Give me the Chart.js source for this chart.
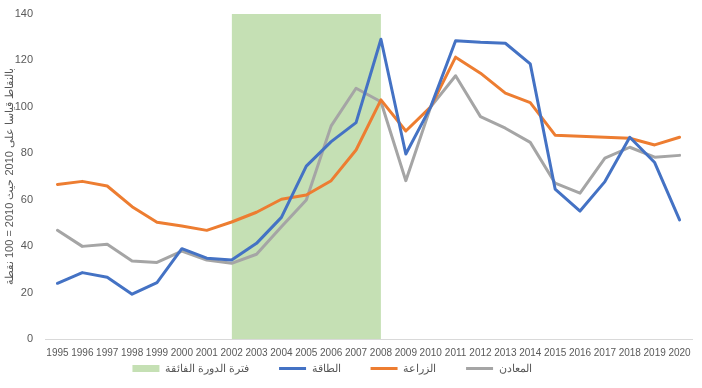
<!DOCTYPE html>
<html lang="ar">
<head>
<meta charset="utf-8">
<script src="https://cdn.jsdelivr.net/npm/chart.js@4.4.1/dist/chart.umd.min.js"></script>
<style>
  html, body { margin: 0; padding: 0; background: #fff; }
  #contenedor { width: 702px; height: 388px; }
</style>
</head>
<body>
<div id="contenedor"><canvas id="graficaCiclo"></canvas></div>
<script>
// 1. Datos del grafico (indices, 2010 = 100)
const anios = ["1995", "1996", "1997", "1998", "1999", "2000", "2001", "2002", "2003", "2004",
  "2005", "2006", "2007", "2008", "2009", "2010", "2011", "2012", "2013", "2014",
  "2015", "2016", "2017", "2018", "2019", "2020"];

const energia = [24.0, 28.6, 26.6, 19.3, 24.3, 38.9, 34.8, 34.0, 41.2, 52.4,
  74.5, 85.0, 93.2, 129.1, 79.7, 100, 128.5, 127.8, 127.4, 118.5,
  64.6, 55.1, 67.8, 86.9, 76.0, 51.3];

const agricultura = [66.6, 67.9, 65.9, 57.0, 50.3, 48.7, 46.8, 50.4, 54.6, 60.2,
  62.0, 68.2, 81.4, 103.0, 89.6, 100, 121.4, 114.5, 105.9, 101.8,
  87.8, 87.3, 86.9, 86.5, 83.6, 86.9];

const metales = [46.8, 39.9, 40.8, 33.6, 33.0, 37.9, 34.0, 32.6, 36.5, 48.4,
  59.9, 91.8, 108.0, 102.2, 68.2, 100, 113.4, 95.8, 90.8, 84.7,
  67.1, 62.8, 77.9, 82.6, 78.3, 79.1];

// periodo del superciclo: 2002 - 2008, ocupa toda la altura del eje
const superciclo = [null, null, null, null, null, null, null, 140, 140, 140,
  140, 140, 140, 140, null, null, null, null, null, null,
  null, null, null, null, null, null];

const etiquetasY = [0, 20, 40, 60, 80, 100, 120, 140];

const colorTexto = "#595959";
const fuente = "'Liberation Sans', Arial, sans-serif";

// 2. Serie de linea con el estilo comun
function serieLinea(nombre, datos, color) {
  return {
    label: nombre,
    data: datos,
    borderColor: color,
    backgroundColor: color,
    borderWidth: 3,
    pointRadius: 0,
    pointStyle: "line",
    tension: 0,
    borderJoinStyle: "round",
    borderCapStyle: "round",
    fill: false,
  };
}

// 3. Ajuste de la leyenda: espacio horizontal amplio pero poco margen vertical
const ajusteLeyenda = {
  id: "ajusteLeyenda",
  afterLayout(chart) {
    const ley = chart.legend;
    if (!ley) return;
    const subir = ley.options.labels.padding - 4;
    const izquierda = 14;
    ley.top -= subir;
    ley.height += subir;
    ley.left -= izquierda;
    ley.right -= izquierda;
  },
};

// 4. Construccion de la grafica
function crearGrafica() {
  const ctx = document.getElementById("graficaCiclo").getContext("2d");

  new Chart(ctx, {
    type: "line",
    data: {
      labels: anios,
      datasets: [
        {
          label: "فترة الدورة الفائقة",
          data: superciclo,
          backgroundColor: "#C5E0B4",
          borderColor: "transparent",
          borderWidth: 0,
          pointRadius: 0,
          pointStyle: "rect",
          fill: "origin",
          spanGaps: false,
        },
        serieLinea("الطاقة", energia, "#4472C4"),
        serieLinea("الزراعة", agricultura, "#ED7D31"),
        serieLinea("المعادن", metales, "#A5A5A5"),
      ],
    },
    options: {
      responsive: true,
      maintainAspectRatio: false,
      animation: false,
      layout: { padding: { top: 14, right: 10, left: 0, bottom: 8 } },
      scales: {
        x: {
          offset: true,
          grid: { display: false },
          border: { display: true, color: "#D9D9D9", width: 1 },
          ticks: {
            color: colorTexto,
            font: { family: fuente, size: 10 },
            maxRotation: 0,
            autoSkip: false,
            padding: 0,
          },
        },
        y: {
          min: 0,
          max: 140,
          grid: { display: false },
          border: { display: false },
          afterBuildTicks: (escala) => {
            escala.ticks = etiquetasY.map((v) => ({ value: v }));
          },
          afterFit: (escala) => {
            escala.width = 45;
          },
          ticks: {
            color: colorTexto,
            font: { family: fuente, size: 11 },
            padding: 4,
          },
          title: {
            display: true,
            text: "بالنقاط قياسا على 2010 حيث 2010 = 100 نقطة",
            color: colorTexto,
            font: { family: fuente, size: 11 },
            padding: { top: 3, bottom: 0 },
          },
        },
      },
      plugins: {
        filler: { drawTime: "beforeDatasetsDraw" },
        tooltip: { enabled: false },
        legend: {
          display: true,
          position: "bottom",
          maxHeight: 21,
          labels: {
            usePointStyle: true,
            pointStyleWidth: 27,
            boxHeight: 7,
            padding: 30,
            color: colorTexto,
            font: { family: fuente, size: 11 },
          },
        },
      },
    },
    plugins: [ajusteLeyenda],
  });
}

// 5. Inicializacion
document.addEventListener("DOMContentLoaded", () => {
  crearGrafica();
});
</script>
</body>
</html>
